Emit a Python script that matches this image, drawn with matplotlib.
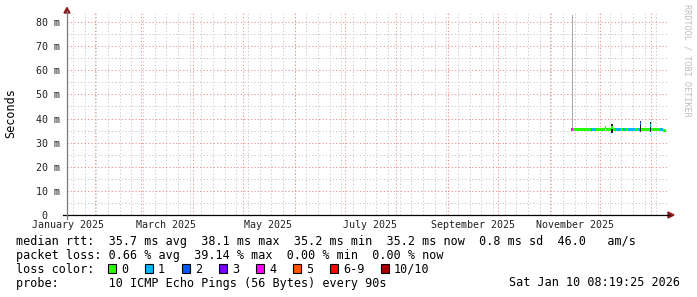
import matplotlib
matplotlib.use("Agg")
import matplotlib.pyplot as plt
import matplotlib.dates as mdates
import pandas as pd
from matplotlib.patches import Rectangle, Polygon
from matplotlib.lines import Line2D

# --- data (one value per day, from 2025-11-14) ---
data_start = "2025-11-14"
median_ms = [
    35.3, 35.5, 35.6, 35.5, 35.4, 35.6, 35.5, 35.5, 35.6, 35.5,
    35.4, 35.5, 35.6, 35.5, 35.5, 35.6, 35.5, 35.5, 35.6, 35.5,
    36.4, 35.6, 35.5, 35.5, 36.2, 35.5, 35.6, 35.5, 35.5, 35.6,
    35.5, 35.5, 35.6, 35.5, 35.5, 35.6, 35.5, 35.5, 35.6, 35.5,
    35.5, 38.1, 35.6, 35.5, 35.5, 35.6, 35.5, 37.0, 35.5, 35.6,
    35.5, 35.5, 35.6, 35.4, 35.5, 35.1, 35.0]
loss_pings = [
    4, 0, 0, 0, 0, 0, 0, 0, 0, 0,
    0, 0, 1, 1, 1, 0, 0, 0, 0, 0,
    0, 0, 0, 0, 0, 0, 1, 1, 1, 1,
    0, 1, 1, 0, 1, 1, 1, 1, 0, 0,
    1, 2, 0, 0, 0, 0, 0, 1, 0, 0,
    0, 0, 0, 1, 1, 0, 0]
smoke_lo = [
    34.9, 35.0, 35.1, 35.0, 34.9, 35.1, 35.0, 35.0, 35.1, 35.0,
    34.9, 35.0, 35.1, 35.0, 35.0, 35.1, 35.0, 35.0, 35.1, 35.0,
    35.6, 35.1, 35.0, 35.0, 34.0, 35.0, 35.1, 35.0, 35.0, 35.1,
    35.0, 35.0, 35.1, 35.0, 35.0, 35.1, 35.0, 35.0, 35.1, 35.0,
    35.0, 34.2, 35.1, 35.0, 35.0, 35.1, 35.0, 34.3, 35.0, 35.1,
    35.0, 35.0, 35.1, 34.9, 35.0, 34.7, 34.6]
smoke_hi = [
    36.0, 36.0, 36.1, 36.0, 35.9, 36.1, 36.0, 36.0, 36.1, 36.0,
    35.9, 36.0, 36.1, 36.0, 36.0, 36.1, 36.0, 36.0, 36.1, 36.0,
    36.9, 36.1, 36.0, 36.0, 37.8, 36.0, 36.1, 36.0, 36.0, 36.1,
    36.0, 36.0, 36.1, 36.0, 36.0, 36.1, 36.0, 36.0, 36.1, 36.0,
    36.0, 38.9, 36.1, 36.0, 36.0, 36.1, 36.0, 38.6, 36.0, 36.1,
    36.0, 36.0, 36.1, 35.9, 36.0, 35.5, 35.4]
ping_max = [
    82.8, 36.0, 36.1, 36.0, 35.9, 36.1, 36.0, 36.0, 36.1, 36.0,
    35.9, 36.0, 36.1, 36.0, 36.0, 36.1, 36.0, 36.0, 36.1, 36.0,
    36.9, 36.1, 36.0, 36.0, 37.8, 36.0, 36.1, 36.0, 36.0, 36.1,
    36.0, 36.0, 36.1, 36.0, 36.0, 36.1, 36.0, 36.0, 36.1, 36.0,
    36.0, 38.9, 36.1, 36.0, 36.0, 36.1, 36.0, 38.6, 36.0, 36.1,
    36.0, 36.0, 36.1, 35.9, 36.0, 35.5, 35.4]

loss_labels = ["0", "1", "2", "3", "4", "5", "6-9", "10/10"]
loss_colors = ["#26ff00", "#00b8ff", "#0059ff", "#7e00ff", "#ff00ff",
               "#ff5500", "#ff0000", "#a10000"]

y_major = [10, 20, 30, 40, 50, 60, 70, 80]
y_minor = [5, 15, 25, 35, 45, 55, 65, 75]
y_labels = ["0  ", "10 m", "20 m", "30 m", "40 m", "50 m", "60 m", "70 m", "80 m"]
x_label_months = ["2025-01-16", "2025-03-16", "2025-05-16", "2025-07-16",
                  "2025-09-16", "2025-11-16"]

stats_lines = [
    "median rtt:  35.7 ms avg  38.1 ms max  35.2 ms min  35.2 ms now  0.8 ms sd  46.0   am/s",
    "packet loss: 0.66 % avg  39.14 % max  0.00 % min  0.00 % now",
]
probe_line = "probe:       10 ICMP Echo Pings (56 Bytes) every 90s"
stamp = "Sat Jan 10 08:19:25 2026"

MONO = "DejaVu Sans Mono"
FS = 8.5
W, H = 697, 297


def fx(x):
    return x / W


def fy(y):
    return 1 - y / H


def loss_color(n):
    if n <= 5:
        return loss_colors[n]
    if n < 10:
        return loss_colors[6]
    return loss_colors[7]


fig = plt.figure(figsize=(W / 100, H / 100), dpi=100)
fig.patch.set_facecolor("white")
ax = fig.add_axes([fx(67), fy(215), 600 / W, 203 / H])

t0 = pd.Timestamp("2025-01-15 08:19:25")
t1 = t0 + pd.Timedelta(days=360)
ax.set_xlim(mdates.date2num(t0), mdates.date2num(t1))
ax.set_ylim(0, 84.15)

# grid: weekly / monthly verticals, 5 / 10 ms horizontals
minor_c = "#c8c8c8"
major_c = "#f09090"
grid_kw = dict(lw=0.72, zorder=0, antialiased=True)
for d in pd.date_range("2025-01-19", "2026-01-10", freq="W-SUN"):
    ax.axvline(mdates.date2num(d), color=minor_c, dashes=(1.2, 2.2), **grid_kw)
for v in y_minor:
    ax.axhline(v, color=minor_c, dashes=(1.2, 2.2), **grid_kw)
for d in pd.date_range("2025-02-01", "2026-01-01", freq="MS"):
    ax.axvline(mdates.date2num(d), color=major_c, dashes=(1.2, 2.2), **grid_kw)
for v in y_major:
    ax.axhline(v, color=major_c, dashes=(1.2, 2.2), **grid_kw)

# smoke and median
days = mdates.date2num(pd.date_range(data_start, periods=len(median_ms), freq="D"))
ax.bar(days + 0.3, [p - m for p, m in zip(ping_max, median_ms)], bottom=median_ms,
       width=0.6, align="edge", color="#a8a8a8", linewidth=0, zorder=2)
ax.bar(days, [h - l for h, l in zip(smoke_hi, smoke_lo)], bottom=smoke_lo,
       width=1.0, align="edge", color="#1e1e1e", linewidth=0, zorder=3)
ax.bar(days, 1.2, bottom=[m - 0.6 for m in median_ms], width=1.0, align="edge",
       color=[loss_color(n) for n in loss_pings], linewidth=0, zorder=4,
       antialiased=False)

for s in ax.spines.values():
    s.set_visible(False)
ax.set_yticks([0] + y_major)
ax.set_yticklabels(y_labels, fontfamily=MONO, fontsize=7.2, color="#222222")
ax.set_xticks(mdates.date2num(pd.to_datetime(x_label_months)))
ax.set_xticklabels(pd.to_datetime(x_label_months).strftime("%B %Y"),
                   fontfamily=MONO, fontsize=7.2, color="#222222")
ax.tick_params(axis="both", length=0)
ax.tick_params(axis="y", pad=5)
ax.tick_params(axis="x", pad=3.5)

# axis lines with arrow heads
arrow_c = "#8c1a1a"
fig.add_artist(Line2D([fx(63), fx(669)], [fy(215), fy(215)], color="black", lw=0.9))
fig.add_artist(Line2D([fx(67), fx(67)], [fy(219), fy(11)], color="#7a7a7a", lw=0.9))
fig.add_artist(Polygon([(fx(674), fy(215)), (fx(668), fy(212)), (fx(668), fy(218))],
                       closed=True, color=arrow_c))
fig.add_artist(Polygon([(fx(67), fy(7.5)), (fx(64), fy(13)), (fx(70), fy(13))],
                       closed=True, color=arrow_c))

fig.text(fx(11), fy(113), "Seconds", rotation=90, ha="center", va="center",
         fontfamily=MONO, fontsize=FS)
fig.text(fx(687), fy(4), "RRDTOOL / TOBI OETIKER", rotation=270, ha="center",
         va="top", fontfamily=MONO, fontsize=6.1, color="#bdbdbd")

# legend block
fig.text(fx(16), fy(245.5), stats_lines[0], fontfamily=MONO, fontsize=FS, va="baseline")
fig.text(fx(16), fy(259), stats_lines[1], fontfamily=MONO, fontsize=FS, va="baseline")
fig.text(fx(16), fy(273), "loss color:", fontfamily=MONO, fontsize=FS, va="baseline")
sx = 108
for lab, col in zip(loss_labels, loss_colors):
    fig.add_artist(Rectangle((fx(sx), fy(273)), 8 / W, 9 / H, facecolor=col,
                             edgecolor="black", lw=0.8))
    fig.text(fx(sx + 13), fy(273), lab, fontfamily=MONO, fontsize=FS, va="baseline")
    sx += 37 + 7 * (len(lab) - 1)
fig.text(fx(16), fy(286.5), probe_line, fontfamily=MONO, fontsize=FS, va="baseline")
fig.text(fx(680), fy(286.5), stamp, fontfamily=MONO, fontsize=FS, va="baseline", ha="right")

fig.savefig("out.png", dpi=100, facecolor="white")
